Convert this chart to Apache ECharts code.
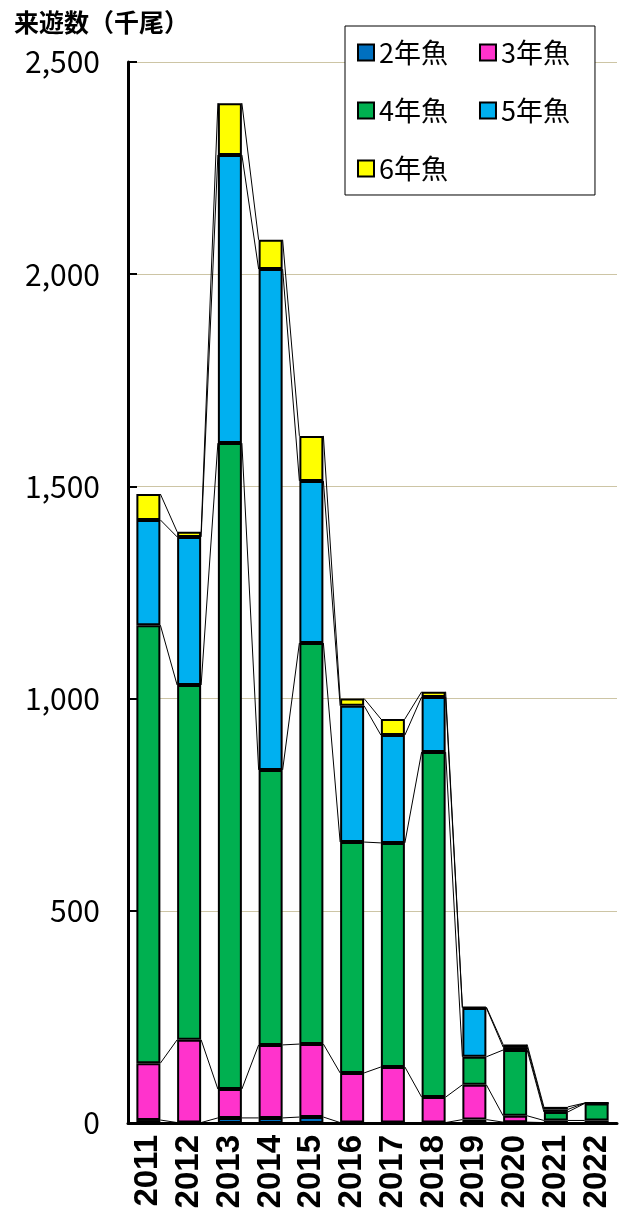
<!DOCTYPE html>
<html>
<head>
<meta charset="utf-8">
<script src="https://cdn.jsdelivr.net/npm/echarts@6/dist/echarts.min.js"></script>
<style>
  html, body { margin: 0; padding: 0; background: #fff; }
  #main { width: 619px; height: 1213px; }
</style>
</head>
<body>
<div id="main"></div>
<script>
var years = ['2011', '2012', '2013', '2014', '2015', '2016', '2017', '2018', '2019', '2020', '2021', '2022'];
var seriesNames = ['2年魚', '3年魚', '4年魚', '5年魚', '6年魚'];
var age2 = [7, 1, 12, 12, 14, 1, 1, 1, 8, 2, 1, 1];
var age3 = [134, 195, 68, 172, 172, 117, 131, 60, 82, 15, 5, 5];
var age4 = [1032, 836, 1522, 648, 945, 544, 528, 813, 66, 155, 20, 40];
var age5 = [248, 349, 679, 1180, 382, 321, 254, 130, 115, 7, 6, 1];
var age6 = [61, 12, 122, 69, 106, 17, 38, 12, 2, 6, 6, 0];
var yTicks = [0, 500, 1000, 1500, 2000, 2500];

var colors = ['#0070c0', '#ff33cc', '#00b050', '#00b0f0', '#ffff00'];
var allData = [age2, age3, age4, age5, age6];
var barW = 24;

// running totals for the series lines between bars
var cum = [];
var run = years.map(function () { return 0; });
allData.forEach(function (arr) {
    run = run.map(function (v, i) { return v + arr[i]; });
    cum.push(run.slice());
});

var myChart = echarts.init(document.getElementById('main'));

var series = allData.map(function (arr, k) {
    return {
        name: seriesNames[k],
        type: 'bar',
        stack: 'total',
        barWidth: barW,
        itemStyle: {
            color: colors[k],
            borderColor: '#000',
            borderWidth: 2
        },
        data: arr
    };
});

series.push({
    type: 'custom',
    silent: true,
    z: 5,
    data: years.slice(0, years.length - 1).map(function (y, i) { return [i, 0]; }),
    encode: { x: 0, y: 1 },
    renderItem: function (params, api) {
        var i = params.dataIndex;
        var kids = [];
        cum.forEach(function (c) {
            var p1 = api.coord([i, c[i]]);
            var p2 = api.coord([i + 1, c[i + 1]]);
            kids.push({
                type: 'line',
                shape: { x1: p1[0] + barW / 2, y1: p1[1], x2: p2[0] - barW / 2, y2: p2[1] },
                style: { stroke: '#000', lineWidth: 1 }
            });
        });
        return { type: 'group', children: kids };
    }
});

var option = {
    backgroundColor: '#fff',
    animation: false,
    textStyle: { fontFamily: 'Noto Sans CJK JP' },
    title: {
        text: '来遊数（千尾）',
        left: 9,
        top: 5,
        textStyle: { fontSize: 25, fontWeight: 'bold', color: '#000', fontFamily: 'Noto Sans CJK JP' }
    },
    legend: {
        data: seriesNames,
        left: 345,
        top: 26,
        width: 220,
        padding: [13, 25, 13, 12],
        itemGap: 31,
        itemWidth: 16,
        itemHeight: 16,
        icon: 'rect',
        borderColor: '#000',
        borderWidth: 1,
        backgroundColor: '#fff',
        textStyle: { fontSize: 27, color: '#000', fontFamily: 'Noto Sans CJK JP' }
    },
    grid: { left: 128, right: 2, top: 62, bottom: 90 },
    xAxis: {
        type: 'category',
        data: years,
        axisLine: { show: true, lineStyle: { color: '#000', width: 3 } },
        axisTick: { show: false },
        axisLabel: {
            interval: 0,
            rotate: 90,
            margin: 12,
            fontSize: 33,
            fontWeight: 'bold',
            color: '#000',
            fontFamily: 'Liberation Sans'
        }
    },
    yAxis: {
        type: 'value',
        min: yTicks[0],
        max: yTicks[yTicks.length - 1],
        interval: 500,
        axisLine: { show: true, lineStyle: { color: '#000', width: 3 } },
        axisTick: { show: true, inside: true, length: 9, lineStyle: { color: '#000', width: 2 } },
        splitLine: { show: true, lineStyle: { color: '#cdc5a5', width: 1 } },
        axisLabel: {
            margin: 28,
            fontSize: 30,
            color: '#000',
            fontFamily: 'Noto Sans CJK JP',
            formatter: function (v) { return v.toLocaleString('en-US'); }
        }
    },
    series: series
};

myChart.setOption(option);
</script>
</body>
</html>
